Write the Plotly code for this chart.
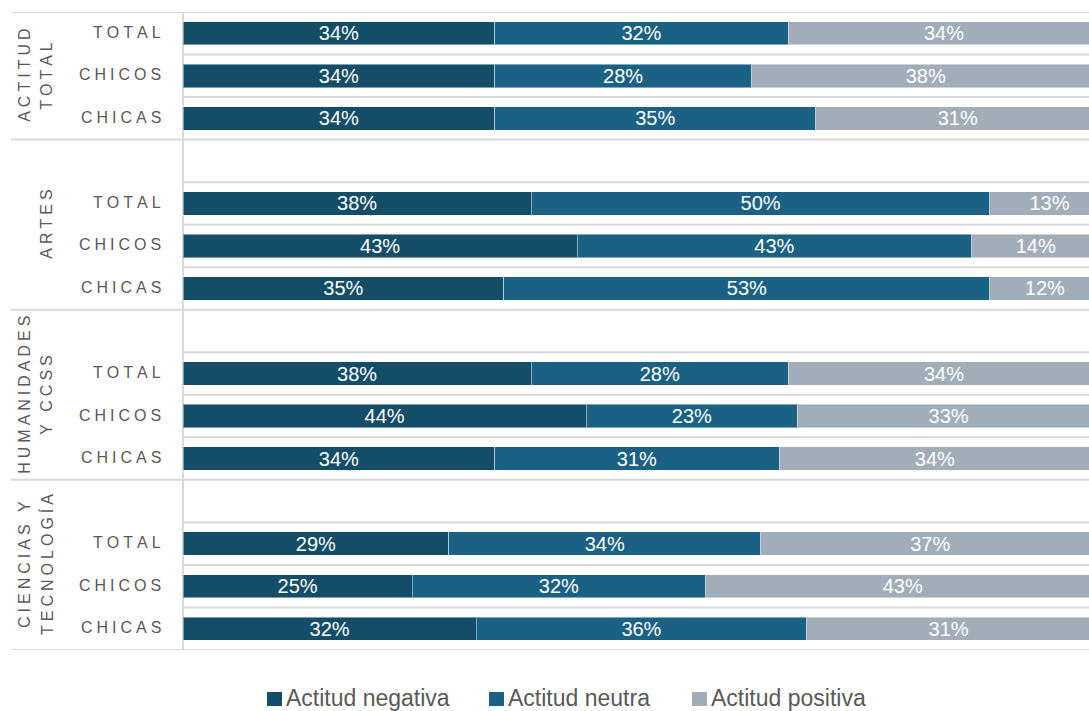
import plotly.graph_objects as go

# Survey attitude breakdown (percent of respondents)
group_lines = [["ACTITUD", "TOTAL"], ["ARTES"], ["HUMANIDADES", "Y CCSS"], ["CIENCIAS Y", "TECNOLOGÍA"]]
row_labels = ["TOTAL", "CHICOS", "CHICAS"]

negativa = [34, 34, 34, 38, 43, 35, 38, 44, 34, 29, 25, 32]
neutra = [32, 28, 35, 50, 43, 53, 28, 23, 31, 34, 32, 36]
positiva = [34, 38, 31, 13, 14, 12, 34, 33, 34, 37, 43, 31]

series_names = ["Actitud negativa", "Actitud neutra", "Actitud positiva"]
series_values = [negativa, neutra, positiva]
colors = ["#134d68", "#1a6184", "#a1aeb9"]

GRID = "#d9d9d9"
TXT = "#595959"
FONT = "Liberation Sans, Arial, sans-serif"
W, H = 1089, 711
ML, MR, MT, MB = 183, 0, 12, 61


def spaced(s, sep="\u2005"):
    return sep.join(s)


# every group after the first gets an empty slot above its rows
n_rows = len(row_labels)
slot = []
for g in range(len(group_lines)):
    for r in range(n_rows):
        slot.append((n_rows + 1) * g + r)
n_slots = max(slot) + 1

fig = go.Figure()
for name, vals, col in zip(series_names, series_values, colors):
    fig.add_trace(go.Bar(
        y=slot, x=vals, orientation="h", name=name,
        marker=dict(color=col, line=dict(color="rgba(255,255,255,0.45)", width=1)),
        text=[f"{v}%" for v in vals], textposition="inside",
        insidetextanchor="middle", constraintext="none",
        textfont=dict(family=FONT, size=20, color="white"),
        width=0.55, showlegend=False, hoverinfo="skip",
    ))

shapes = []
annotations = []

# horizontal separators between slots; group borders extend into the label column
group_edges = {-0.5}
for g in range(len(group_lines)):
    group_edges.add((n_rows + 1) * g + n_rows - 0.5)
for k in range(n_slots + 1):
    yb = k - 0.5
    x0 = -(ML - 11) / (W - ML - MR) if yb in group_edges else 0
    shapes.append(dict(type="line", xref="paper", yref="y", x0=x0, x1=1,
                       y0=yb, y1=yb, line=dict(color=GRID, width=2), layer="below"))
# vertical divider at the category axis
shapes.append(dict(type="line", xref="paper", yref="y", x0=0, x1=0, y0=-0.5, y1=n_slots - 0.5,
                   line=dict(color=GRID, width=2), layer="below"))

# row labels
for i, s in enumerate(slot):
    annotations.append(dict(x=0, xref="paper", y=s, yref="y", xanchor="right", yanchor="middle",
                            xshift=-20, yshift=1, text=spaced(row_labels[i % n_rows]), showarrow=False,
                            font=dict(family=FONT, size=16, color=TXT)))

# group labels, rotated
for g, lines in enumerate(group_lines):
    yc = 1 if g == 0 else (n_rows + 1) * g + 0.5
    xs = [25, 47] if len(lines) == 2 else [47]
    for line, xpx in zip(lines, xs):
        annotations.append(dict(x=0, xref="paper", y=yc, yref="y", xanchor="center", yanchor="middle",
                                xshift=xpx - ML, text=spaced(line), textangle=-90, showarrow=False,
                                font=dict(family=FONT, size=16, color=TXT)))

# legend drawn below the plot
legend_pos = [267, 489, 692]
for name, col, xpx in zip(series_names, colors, legend_pos):
    shapes.append(dict(type="rect", xref="paper", yref="paper", xsizemode="pixel", ysizemode="pixel",
                       xanchor=0, yanchor=0, x0=xpx - ML, x1=xpx - ML + 15,
                       y0=-(692 - (H - MB)), y1=-(706 - (H - MB)),
                       fillcolor=col, line=dict(width=0)))
    annotations.append(dict(x=0, xref="paper", y=0, yref="paper", xanchor="left", yanchor="middle",
                            xshift=xpx - ML + 17, yshift=-(698 - (H - MB)), text=name, showarrow=False,
                            font=dict(family=FONT, size=23, color=TXT)))

fig.update_layout(
    barmode="stack",
    width=W, height=H,
    margin=dict(l=ML, r=MR, t=MT, b=MB, pad=0),
    paper_bgcolor="white", plot_bgcolor="white",
    xaxis=dict(range=[0, 98.8], visible=False, fixedrange=True),
    yaxis=dict(range=[n_slots - 0.5, -0.5], showticklabels=False, showgrid=False,
               zeroline=False, ticks="", fixedrange=True),
    shapes=shapes, annotations=annotations,
    showlegend=False,
)

fig.write_html("out.html")
